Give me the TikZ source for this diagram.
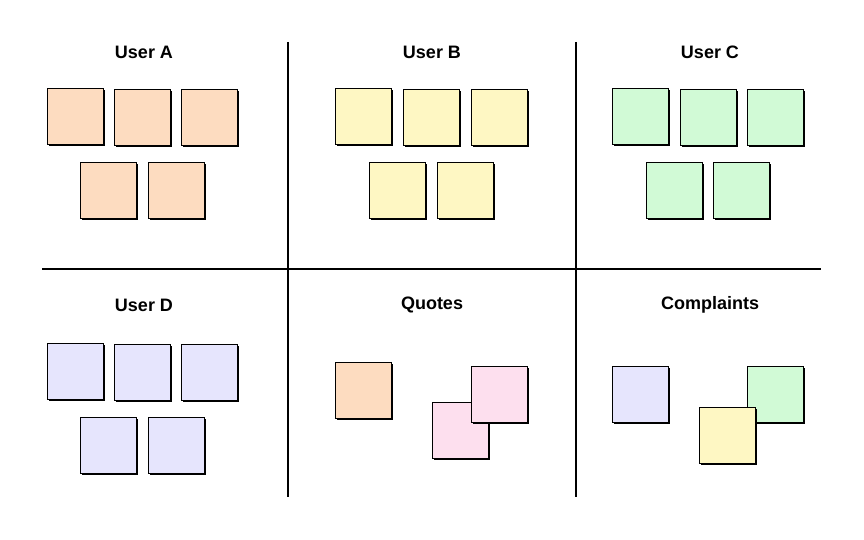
\documentclass[tikz,border=0pt]{standalone}
\usepackage{fontspec}
\setmainfont{Liberation Sans}
\definecolor{cor}{HTML}{FDDCC0}
\definecolor{cye}{HTML}{FEF7C3}
\definecolor{cgr}{HTML}{D1FAD6}
\definecolor{cpu}{HTML}{E6E5FD}
\definecolor{cpi}{HTML}{FDDFEE}
\begin{document}
\begin{tikzpicture}[x=1pt,y=-1pt,
  title/.style={font=\bfseries\fontsize{18}{20}\selectfont,anchor=center},
  div/.style={line width=1.5pt},
]
\useasboundingbox (0,0) rectangle (864,540);
\newcommand{\note}[4]{%
  \fill[black] (#2+2,#3+2) rectangle (#2+58,#3+58);
  \node[draw=black,line width=0.8pt,fill=#4,minimum size=56pt,inner sep=0,anchor=north west] (#1) at (#2,#3) {};}
% dividers
\coordinate (v1t) at (288,42); \coordinate (v1b) at (288,497);
\coordinate (v2t) at (576,42); \coordinate (v2b) at (576,497);
\coordinate (hl) at (42,269); \coordinate (hr) at (821,269);
\draw[div] (v1t) -- (v1b); \draw[div] (v2t) -- (v2b); \draw[div] (hl) -- (hr);
% titles
\node[title] (ta) at (144,52) {User A};
\node[title] (tb) at (432,52) {User B};
\node[title] (tc) at (710,52) {User C};
\node[title] (td) at (144,305) {User D};
\node[title] (tq) at (432,305) {Quotes};
\node[title] (tk) at (710,305) {Complaints};
% User A
\note{a1}{47}{88}{cor}\note{a2}{114}{89}{cor}\note{a3}{181}{89}{cor}
\note{a4}{80}{162}{cor}\note{a5}{148}{162}{cor}
% User B
\note{b1}{335}{88}{cye}\note{b2}{403}{89}{cye}\note{b3}{471}{89}{cye}
\note{b4}{369}{162}{cye}\note{b5}{437}{162}{cye}
% User C
\note{c1}{612}{88}{cgr}\note{c2}{680}{89}{cgr}\note{c3}{747}{89}{cgr}
\note{c4}{646}{162}{cgr}\note{c5}{713}{162}{cgr}
% User D
\note{d1}{47}{343}{cpu}\note{d2}{114}{344}{cpu}\note{d3}{181}{344}{cpu}
\note{d4}{80}{417}{cpu}\note{d5}{148}{417}{cpu}
% Quotes
\note{q1}{335}{362}{cor}
\note{q2}{432}{402}{cpi}
\note{q3}{471}{366}{cpi}
% Complaints
\note{k1}{612}{366}{cpu}
\note{k2}{747}{366}{cgr}
\note{k3}{699}{407}{cye}
\end{tikzpicture}
\end{document}
